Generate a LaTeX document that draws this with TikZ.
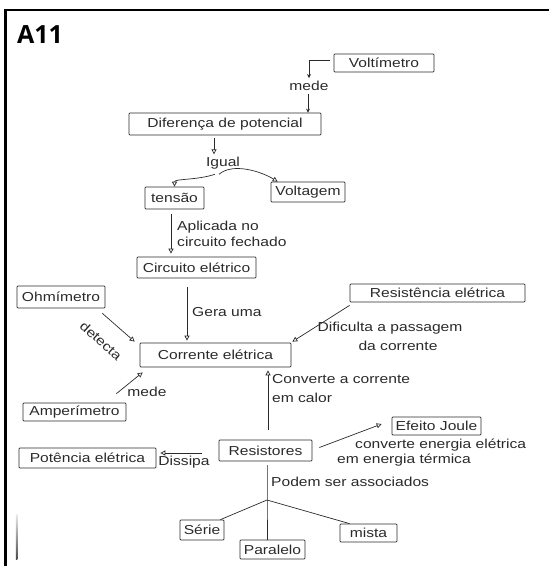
\documentclass[tikz,border=0pt]{standalone}
\usepackage{fontspec}
\usetikzlibrary{arrows.meta,calc}
\newfontfamily\hand{Liberation Sans}[FakeStretch=1.2]
\newfontfamily\titlefont{Open Sans}
\definecolor{ink}{HTML}{2A2A2A}
\begin{document}
\begin{tikzpicture}[x=1pt,y=-1pt,
  hw/.style={font=\hand\fontsize{13}{15}\selectfont, text=ink},
  box/.style={hw, draw=ink, line width=0.7pt, inner sep=0pt, rounded corners=0.8pt},
  lbl/.style={hw, inner sep=1pt},
  link/.style={draw=ink, line width=0.7pt},
  arrO/.style={link, -{Triangle[open, length=5pt, width=5pt]}},
  arrS/.style={link, -{Stealth[length=4pt, width=4pt]}}]
\useasboundingbox (0,0) rectangle (549,566);

% frame and heading
\draw[line width=2.5pt] (549,10) -- (5.5,10) -- (5.5,567);
\shade[top color=black!8, bottom color=black!70] (15.8,514) rectangle (17.3,559);
\node[anchor=base west, inner sep=0pt, font=\titlefont\bfseries\fontsize{25}{28}\selectfont] (title) at (17,43) {A11};

% concepts
\node[box, minimum width=100pt, minimum height=18pt] (volt) at (384,63) {Voltímetro};
\node[box, minimum width=192pt, minimum height=22pt] (dif) at (225,124) {Diferença de potencial};
\node[box, minimum width=59pt, minimum height=22pt] (tensao) at (174.5,198) {tensão};
\node[box, minimum width=74pt, minimum height=20pt] (volg) at (308,192) {Voltagem};
\node[box, minimum width=119pt, minimum height=21pt] (circ) at (196.5,267.5) {Circuito elétrico};
\node[box, minimum width=88pt, minimum height=22pt] (ohm) at (61,297) {Ohmímetro};
\node[box, minimum width=175pt, minimum height=18pt] (resist) at (437.5,293) {Resistência elétrica};
\node[box, minimum width=151pt, minimum height=24pt] (corr) at (215.5,355) {Corrente elétrica};
\node[box, minimum width=103pt, minimum height=18pt] (amper) at (74.5,412) {Amperímetro};
\node[box, minimum width=89pt, minimum height=18pt] (joule) at (436.5,426) {Efeito Joule};
\node[box, minimum width=93pt, minimum height=21pt] (rstr) at (265.5,450.5) {Resistores};
\node[box, minimum width=137pt, minimum height=20pt] (pot) at (87.5,458) {Potência elétrica};
\node[box, minimum width=44pt, minimum height=20pt] (serie) at (202,530) {Série};
\node[box, minimum width=65pt, minimum height=19pt] (paral) at (272.5,549.5) {Paralelo};
\node[box, minimum width=57pt, minimum height=18pt] (mista) at (368.5,533) {mista};

% linking words
\node[lbl] (mede1) at (309,86) {mede};
\node[lbl] (igual) at (223,163) {Igual};
\node[lbl, anchor=west] (aplic) at (176,227) {Aplicada no};
\node[lbl, anchor=west] (fech) at (176,242) {circuito fechado};
\node[lbl, anchor=west] (gera) at (191,312) {Gera uma};
\node[lbl, rotate=-42] (detec) at (101,341) {detecta};
\node[lbl] (dific) at (390,328) {Dificulta a passagem};
\node[lbl] (dacor) at (398,346) {da corrente};
\node[lbl] (mede2) at (147,392) {mede};
\node[lbl, anchor=west] (conv1) at (271,379) {Converte a corrente};
\node[lbl, anchor=west] (conv2) at (271,398) {em calor};
\node[lbl, anchor=west] (conv3) at (354,445) {converte energia elétrica};
\node[lbl, anchor=west] (conv4) at (336,460) {em energia térmica};
\node[lbl] (dissi) at (184,462) {Dissipa};
\node[lbl, anchor=west] (podem) at (270,482) {Podem ser associados};

% anchor points of the straight drops
\coordinate (s1) at ($(mede1.south)+(-1,2)$);
\coordinate (s2) at ($(tensao.south)+(-3.5,5)$);
\coordinate (s3) at ($(circ.south)+(-9.5,9)$);
\coordinate (s4) at ($(rstr.north)+(2.5,-10)$);
\coordinate (s5) at ($(dif.south)+(-11,3)$);
\coordinate (jn) at (267,500);

% connectors
\draw[arrS, shorten >=2pt] ($(volt.west)+(-4,-3)$) -| (mede1.north);
\draw[arrS] (s1) -- (s1 |- dif.north);
\draw[arrO] (s5) -- ($(s5)+(0,16)$);
\draw[arrO] ($(igual.south)+(-8,4)$) .. controls +(-18,6) and +(0,-8) .. (tensao.north);
\draw[arrO] ($(igual.south)+(-4,4)$) .. controls +(14,-12) and +(-16,-10) .. ($(volg.north west)+(7,0)$);
\draw[arrO, shorten >=3pt] (s2) -- (s2 |- circ.north);
\draw[arrO, shorten >=2pt] (s3) -- (s3 |- corr.north);
\draw[arrO] ($(ohm.south east)+(-3,5)$) -- ($(corr.north west)+(-5,-1)$);
\draw[arrO] ($(resist.south west)+(0,3)$) -- ($(corr.north east)+(1,-1)$);
\draw[arrO] ($(amper.north east)+(-10,-9)$) -- ($(corr.south west)+(3,5)$);
\draw[arrO, shorten >=3pt] (s4) -- (s4 |- corr.south);
\draw[arrO] ($(rstr.east)+(7,-3)$) -- ($(joule.west)+(-10,-2)$);
\draw[arrO] ($(rstr.west)+(-17,2.5)$) -- ($(pot.east)+(4,-5)$);
\draw[link] ($(rstr.south)+(1.5,4)$) -- (jn) -- (jn |- paral.north);
\draw[link] (jn) -- ($(serie.north east)+(-4,0)$);
\draw[link] (jn) -- ($(mista.north west)+(10,0)$);
\end{tikzpicture}
\end{document}
